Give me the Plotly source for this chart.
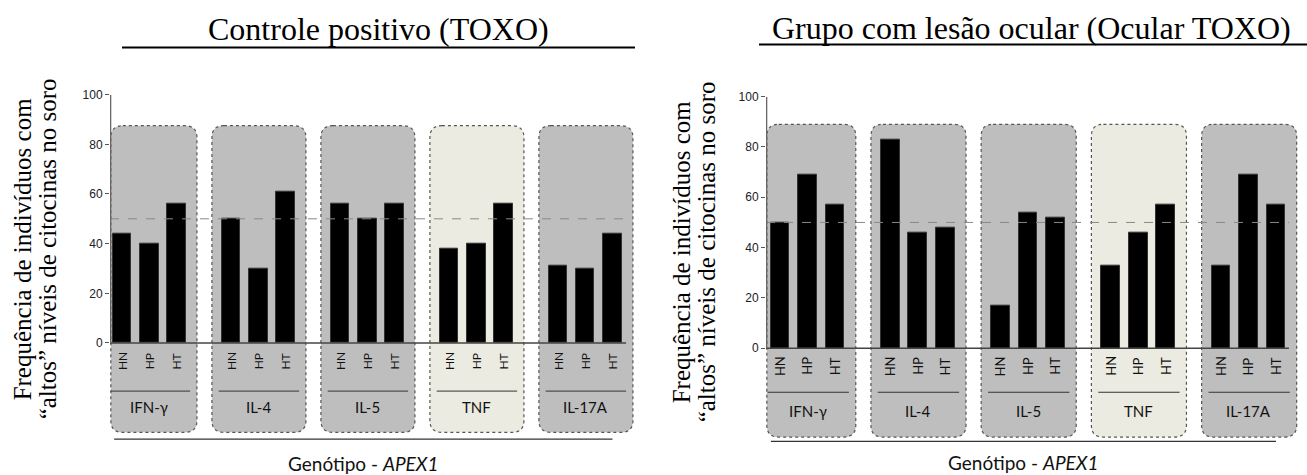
import plotly.graph_objects as go

# ---- data ----
cytokines = ["IFN-γ", "IL-4", "IL-5", "TNF", "IL-17A"]
genotypes = ["HN", "HP", "HT"]
controle_toxo = [[44, 40, 56], [50, 30, 61], [56, 50, 56], [38, 40, 56], [31, 30, 44]]
ocular_toxo = [[50, 69, 57], [83, 46, 48], [17, 54, 52], [33, 46, 57], [33, 69, 57]]
threshold = 50
panel_titles = ["Controle positivo (TOXO)", "Grupo com lesão ocular (Ocular TOXO)"]
ytitle_lines = ["Frequência de indivíduos com", "“altos” níveis de citocinas no soro"]
xlabel = "Genótipo - <i>APEX1</i>"

W, H = 1307, 475
box_fill = {"IFN-γ": "#bebebe", "IL-4": "#bebebe", "IL-5": "#bebebe",
            "TNF": "#ecebe1", "IL-17A": "#bebebe"}

SERIF = "Liberation Serif, Times New Roman, serif"
SANS = "Liberation Sans, Arial, sans-serif"
CAL = "Lato, Open Sans, sans-serif"

# per-panel layout settings (axis domains in pixels, ranges in data units)
panels = [
    dict(values=controle_toxo, xa="x", ya="y",
         px_dom=(110, 640), xr=(-0.44, 19.01), py_dom=(89, 472), yr=(-52, 100),
         box_top=87.5, box_bot=-36, div_y=-19.4, lab_y=-26, gen_y=-7.3,
         gline_y=-38.7, gtext_y=-48.5, gline=(-0.29, 18.0), base_end=18.5,
         gfont=12, title_x=379, title_y=22, uline=(122, 635, 41),
         yt_x=(22, 47), yt_y=246),
    dict(values=ocular_toxo, xa="x2", ya="y2",
         px_dom=(766, 1300), xr=(-0.508, 18.87), py_dom=(91, 474), yr=(-50, 100),
         box_top=89, box_bot=-35.3, div_y=-17.5, lab_y=-25, gen_y=-7.1,
         gline_y=-37, gtext_y=-45.6, gline=(-0.33, 18.0), base_end=18.47,
         gfont=13, title_x=1031, title_y=21, uline=(759, 1307, 38),
         yt_x=(681, 706), yt_y=249),
]


def rounded_box(x0, x1, y0, y1, rx, ry):
    return (f"M{x0+rx},{y1} L{x1-rx},{y1} Q{x1},{y1} {x1},{y1-ry} "
            f"L{x1},{y0+ry} Q{x1},{y0} {x1-rx},{y0} L{x0+rx},{y0} "
            f"Q{x0},{y0} {x0},{y0+ry} L{x0},{y1-ry} Q{x0},{y1} {x0+rx},{y1} Z")


fig = go.Figure()
shapes, annotations = [], []

for k, p in enumerate(panels):
    xa, ya = p["xa"], p["ya"]
    xlo, xhi = p["xr"]
    ylo, yhi = p["yr"]
    # pixel scale factors for circular-looking corners
    px_per_x = (p["px_dom"][1] - p["px_dom"][0]) / (xhi - xlo)
    px_per_y = (p["py_dom"][1] - p["py_dom"][0]) / (yhi - ylo)
    rx, ry = 12 / px_per_x, 12 / px_per_y

    xs, ys, labels = [], [], []
    for g, cyt in enumerate(cytokines):
        base = g * 4
        for j, gen in enumerate(genotypes):
            xs.append(base + j)
            ys.append(p["values"][g][j])
            labels.append(f"{cyt} {gen}")
            annotations.append(dict(
                x=base + j, y=p["gen_y"], xref=xa, yref=ya, text=gen,
                textangle=-90, showarrow=False,
                font=dict(family=CAL, size=p["gfont"], color="#111")))
        bx0 = max(base - 0.70, xlo + 0.03)
        bx1 = base + 2.75
        shapes.append(dict(
            type="path", xref=xa, yref=ya, layer="below",
            path=rounded_box(bx0, bx1, p["box_bot"], p["box_top"], rx, ry),
            fillcolor=box_fill[cyt],
            line=dict(color="#555", width=1.2, dash="dot")))
        shapes.append(dict(
            type="line", xref=xa, yref=ya,
            x0=max(base - 0.45, xlo + 0.03), x1=base + 2.5,
            y0=p["div_y"], y1=p["div_y"],
            line=dict(color="#333", width=1)))
        annotations.append(dict(
            x=base + 1, y=p["lab_y"], xref=xa, yref=ya, text=cyt,
            showarrow=False, font=dict(family=CAL, size=15, color="#111")))

    fig.add_trace(go.Bar(
        x=xs, y=ys, width=0.68, xaxis=xa, yaxis=ya, hovertext=labels,
        marker=dict(color="black", line=dict(color="#333", width=1)),
        showlegend=False))

    # threshold line
    shapes.append(dict(type="line", xref=xa, yref=ya, x0=xlo, x1=p["base_end"],
                       y0=threshold, y1=threshold, layer="above",
                       line=dict(color="#888", width=1, dash="dash")))
    # zero baseline and y-axis line
    shapes.append(dict(type="line", xref=xa, yref=ya, x0=xlo, x1=p["base_end"],
                       y0=0, y1=0, line=dict(color="#444", width=1.5)))
    shapes.append(dict(type="line", xref=xa, yref=ya, x0=xlo + 0.02, x1=xlo + 0.02,
                       y0=0, y1=100, line=dict(color="#666", width=1.5)))
    # genotype underline and label
    shapes.append(dict(type="line", xref=xa, yref=ya, x0=p["gline"][0], x1=p["gline"][1],
                       y0=p["gline_y"], y1=p["gline_y"],
                       line=dict(color="#333", width=1.2)))
    annotations.append(dict(
        x=(p["gline"][0] + p["gline"][1]) / 2, y=p["gtext_y"], xref=xa, yref=ya,
        text=xlabel, showarrow=False,
        font=dict(family=CAL, size=19, color="#111")))

    # panel title with underline
    annotations.append(dict(
        x=p["title_x"] / W, y=1 - p["title_y"] / H, xref="paper", yref="paper",
        text=panel_titles[k], showarrow=False, xanchor="center", yanchor="middle",
        font=dict(family=SERIF, size=32, color="black")))
    ux0, ux1, uy = p["uline"]
    shapes.append(dict(type="line", xref="paper", yref="paper",
                       x0=ux0 / W, x1=ux1 / W, y0=1 - uy / H, y1=1 - uy / H,
                       line=dict(color="black", width=2)))

    # two-line y title
    for line_txt, cx in zip(ytitle_lines, p["yt_x"]):
        annotations.append(dict(
            x=cx / W, y=1 - p["yt_y"] / H, xref="paper", yref="paper",
            text=line_txt, textangle=-90, showarrow=False,
            xanchor="center", yanchor="middle",
            font=dict(family=SERIF, size=25, color="black")))

    axis_common = dict(showgrid=False, zeroline=False, showline=False)
    fig.update_layout(**{
        ("xaxis" if xa == "x" else "xaxis2"): dict(
            domain=[p["px_dom"][0] / W, p["px_dom"][1] / W], range=list(p["xr"]),
            visible=False, anchor=ya, **axis_common),
        ("yaxis" if ya == "y" else "yaxis2"): dict(
            domain=[1 - p["py_dom"][1] / H, 1 - p["py_dom"][0] / H], range=list(p["yr"]),
            anchor=xa, tickvals=[0, 20, 40, 60, 80, 100], ticks="outside",
            ticklen=4, tickcolor="#555", tickwidth=1,
            tickfont=dict(family=SANS, size=12, color="#222"), **axis_common),
    })

fig.update_layout(
    width=W, height=H, margin=dict(l=0, r=0, t=0, b=0),
    paper_bgcolor="white", plot_bgcolor="rgba(0,0,0,0)",
    shapes=shapes, annotations=annotations, bargap=0,
)

fig.write_html("out.html")
